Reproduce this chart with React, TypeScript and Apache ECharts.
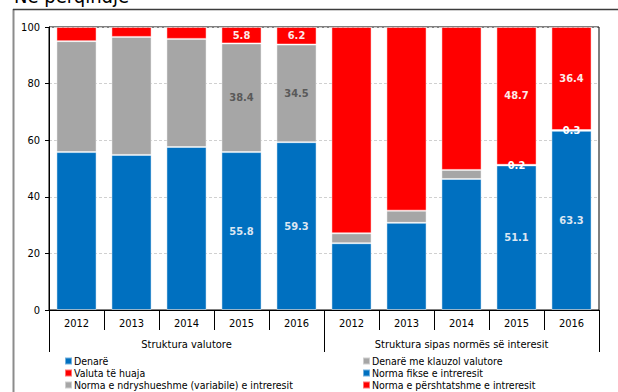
import React, { useEffect, useRef } from "react";
import * as echarts from "echarts";

const years = ["2012", "2013", "2014", "2015", "2016"];
const groups = ["Struktura valutore", "Struktura sipas normës së interesit"];
const labelledYears = ["2015", "2016"];

// Struktura valutore
const denare = [55.8, 54.8, 57.6, 55.8, 59.3];
const denareKlauzol = [39.2, 41.7, 38.2, 38.4, 34.5];
const valuta = [5.0, 3.5, 4.2, 5.8, 6.2];

// Struktura sipas normës së interesit
const normaFikse = [23.6, 30.8, 46.3, 51.1, 63.3];
const normaNdryshueshme = [3.5, 4.3, 3.2, 0.2, 0.3];
const normaPershtatshme = [72.9, 64.9, 50.5, 48.7, 36.4];

const legendLeft = ["Denarë", "Valuta të huaja", "Norma e ndryshueshme (variabile) e intreresit"];
const legendRight = ["Denarë me klauzol valutore", "Norma fikse e intreresit", "Norma e përshtatshme e intreresit"];

const BLUE = "#0070c0";
const GRAY = "#a6a6a6";
const RED = "#ff0000";
const FONT = "Tahoma, 'DejaVu Sans Condensed', 'DejaVu Sans', sans-serif";

function buildData(values: number[], side: 0 | 1, labelColor: string) {
  const items = values.map((v, i) => ({
    value: v,
    label: {
      show: labelledYears.includes(years[i]),
      color: labelColor,
    },
  }));
  const blanks = years.map(() => "-" as any);
  return side === 0 ? [...items, ...blanks] : [...blanks, ...items];
}

export default function App() {
  const ref = useRef<HTMLDivElement>(null);

  useEffect(() => {
    if (!ref.current) return;
    const chart = echarts.init(ref.current, undefined, { renderer: "svg" });

    const barBase = {
      type: "bar",
      stack: "total",
      barCategoryGap: "27%",
      xAxisIndex: 0,
      label: {
        position: "inside",
        fontFamily: FONT,
        fontSize: 11,
        fontWeight: "bold",
        formatter: (p: any) => Number(p.value).toFixed(1),
      },
      itemStyle: { borderColor: "rgba(255,255,255,0.45)", borderWidth: 1 },
    };

    const legendBase = {
      orient: "vertical",
      top: 355,
      bottom: 0,
      padding: 0,
      itemWidth: 7,
      itemHeight: 7,
      itemGap: 0,
      icon: "rect",
      textStyle: { fontFamily: FONT, fontSize: 10.5, color: "#000", lineHeight: 12, padding: [0, 0, 0, -3] },
    };

    const option: any = {
      animation: false,
      textStyle: { fontFamily: FONT },
      grid: {
        left: 49,
        right: 19,
        top: 27,
        bottom: 82,
        show: true,
        borderColor: "#000",
        borderWidth: 1,
        backgroundColor: "transparent",
      },
      legend: [
        { ...legendBase, left: 64, data: legendLeft },
        { ...legendBase, left: 362, data: legendRight },
      ],
      xAxis: [
        {
          type: "category",
          data: [...years, ...years],
          position: "bottom",
          axisLine: { show: true, lineStyle: { color: "#000", width: 1 } },
          axisTick: { show: true, interval: 0, length: 20, lineStyle: { color: "#000" } },
          axisLabel: { interval: 0, margin: 8, fontSize: 11, color: "#000", fontFamily: FONT },
        },
        {
          type: "category",
          data: groups,
          position: "bottom",
          axisLine: { show: false },
          axisTick: { show: true, interval: 0, length: 42, lineStyle: { color: "#000" } },
          axisLabel: { interval: 0, margin: 29, fontSize: 11, color: "#000", fontFamily: FONT },
        },
      ],
      yAxis: {
        type: "value",
        min: 0,
        max: 100,
        interval: 20,
        axisLine: { show: true, lineStyle: { color: "#000", width: 1 } },
        axisTick: { show: true, length: 4, lineStyle: { color: "#000" } },
        axisLabel: { margin: 9, fontSize: 11, color: "#000", fontFamily: FONT },
        splitLine: { show: true, lineStyle: { color: "#d0d0d0", type: [3, 2] } },
      },
      graphic: [
        {
          type: "line",
          shape: { x1: 13.5, y1: 9, x2: 13.5, y2: 392 },
          style: { stroke: "#8c8c8c", lineWidth: 2 },
        },
        {
          type: "line",
          shape: { x1: 13, y1: 9.5, x2: 618, y2: 9.5 },
          style: { stroke: "#3c3c3c", lineWidth: 1.5 },
        },
        {
          type: "text",
          x: 14,
          y: 6,
          style: {
            text: "Në përqindje",
            font: `20px ${FONT}`,
            fill: "#000",
            textVerticalAlign: "bottom",
          },
        },
      ],
      series: [
        { ...barBase, name: "Denarë", color: BLUE, data: buildData(denare, 0, "#dce6f2") },
        { ...barBase, name: "Denarë me klauzol valutore", color: GRAY, data: buildData(denareKlauzol, 0, "#595959") },
        { ...barBase, name: "Valuta të huaja", color: RED, data: buildData(valuta, 0, "#fde9e9") },
        { ...barBase, name: "Norma fikse e intreresit", color: BLUE, data: buildData(normaFikse, 1, "#dce6f2") },
        { ...barBase, name: "Norma e ndryshueshme (variabile) e intreresit", color: GRAY, data: buildData(normaNdryshueshme, 1, "#ffffff") },
        { ...barBase, name: "Norma e përshtatshme e intreresit", color: RED, data: buildData(normaPershtatshme, 1, "#fde9e9") },
      ],
    };

    chart.setOption(option);
    return () => chart.dispose();
  }, []);

  return (
    <div
      ref={ref}
      style={{ position: "fixed", left: 0, top: 0, width: 618, height: 392, background: "#fff" }}
    />
  );
}
